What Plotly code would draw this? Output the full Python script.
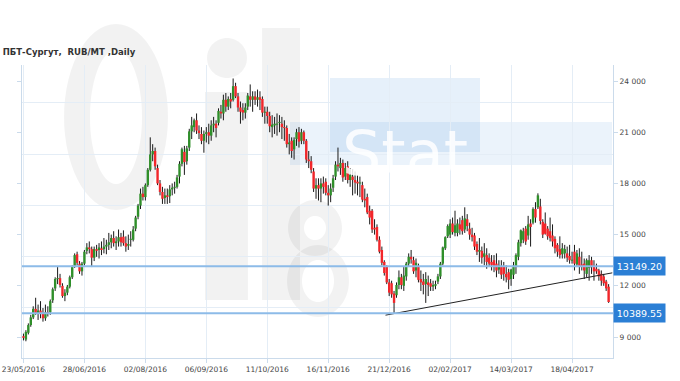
import math
import plotly.graph_objects as go

# ---------------- data ----------------
opens = [9050, 8850, 9250, 9700, 10150, 10650, 10400, 10550, 10400, 10100,
         10450, 10450, 11150, 11850, 12400, 12450, 12000, 11400, 11600, 11950,
         12500, 13150, 13850, 13300, 12850, 13300, 14050, 14250, 14150, 13650,
         14150, 14100, 14200, 14150, 14300, 14400, 14550, 14800, 14500, 14600,
         14850, 14880, 14500, 14350, 14700, 14700, 15350, 16050, 16700, 17400,
         17200, 17900, 18800, 19700, 19900, 18900, 18000, 17500, 17150, 17300,
         17250, 17650, 17750, 17800, 18400, 19150, 19850, 19300, 20100, 21050,
         21300, 21700, 21100, 20900, 20500, 20900, 21000, 20800, 21400, 21500,
         21550, 22200, 22100, 22900, 22500, 22950, 22900, 23700, 23100, 22450,
         22300, 22150, 22500, 23100, 22900, 23100, 22900, 23050, 22950, 22150,
         22200, 21950, 21300, 21400, 21450, 21550, 21500, 21300, 21250, 20300,
         20500, 20000, 20600, 21000, 20500, 21000, 20500, 19400, 19300, 18700,
         17700, 17900, 17700, 18000, 18100, 17450, 17300, 17750, 18400, 19100,
         18900, 19200, 18400, 19000, 18200, 18400, 18200, 18100, 18000, 17900,
         17100, 17200, 16400, 16400, 15400, 15450, 14700, 14100, 13400, 13100,
         12200, 12150, 11550, 11450, 12050, 12500, 12000, 12550, 13300, 13700,
         13500, 12900, 13100, 12400, 12250, 12100, 12200, 12150, 11950, 12000,
         12250, 12550, 13300, 14200, 14900, 15000, 15650, 15100, 15100, 15600,
         15850, 15300, 15900, 15350, 15000, 14950, 14450, 14000, 14050, 13700,
         13800, 13650, 13400, 13500, 13300, 12950, 13100, 13150, 12700, 12800,
         12400, 12650, 13100, 13700, 14500, 14700, 15350, 14950, 15650, 15700,
         16500, 16600, 16650, 15750, 15650, 15350, 15200, 14950, 14750, 14400,
         14150, 13850, 13900, 13900, 13750, 13500, 14000, 13250, 13700, 13250,
         13300, 12700, 13050, 13500, 13200, 13000, 12900, 12700, 12550, 12250,
         11950]
highs = [9200, 9400, 9800, 10300, 10800, 11300, 10900, 11100, 10700, 10900,
         10800, 11200, 11900, 12500, 13100, 12700, 12150, 11800, 12050, 12600,
         13200, 13900, 14000, 13450, 13400, 14100, 14500, 14600, 14300, 14300,
         14400, 14500, 14600, 14800, 14700, 15100, 15000, 15200, 14900, 15300,
         15100, 15250, 14900, 15000, 15200, 15500, 16100, 16800, 17700, 17800,
         18000, 18900, 20700, 20300, 20100, 19100, 18200, 17800, 17700, 17700,
         17900, 18000, 18100, 18500, 19300, 20100, 20200, 20200, 21200, 21900,
         21800, 22100, 21400, 21300, 21100, 21300, 21500, 21700, 21900, 21700,
         22400, 22600, 23200, 23300, 23100, 23300, 24150, 23900, 23300, 22800,
         22700, 22700, 23300, 23800, 23400, 23400, 23500, 23400, 23100, 22500,
         22500, 22200, 22000, 21900, 22100, 22000, 21900, 21700, 21400, 20900,
         20700, 20700, 21200, 21300, 21200, 21100, 20600, 19900, 19600, 18900,
         18300, 18300, 18300, 18400, 18300, 17900, 18000, 18500, 19300, 20100,
         19500, 19400, 19200, 19300, 18900, 18800, 18700, 18500, 18400, 18100,
         17700, 17400, 16700, 16500, 15900, 15600, 14900, 14300, 13500, 13200,
         12400, 12300, 11700, 12200, 12900, 12700, 13100, 13400, 13900, 14100,
         13700, 13600, 13300, 12900, 12700, 12800, 12600, 12400, 12300, 12300,
         12700, 13400, 14300, 14900, 15600, 15900, 16000, 16400, 15900, 16000,
         16100, 16600, 16200, 15700, 15400, 15100, 14600, 14800, 14300, 14500,
         14200, 13900, 13800, 13800, 13900, 13500, 13500, 13400, 13200, 13000,
         13000, 13400, 13900, 14700, 15300, 15400, 15500, 16100, 15900, 16600,
         16900, 17420, 17100, 15900, 16300, 15500, 16000, 15600, 14900, 14500,
         14900, 14500, 14400, 14300, 14400, 14000, 14400, 14100, 14200, 14000,
         13600, 13600, 13800, 13700, 13500, 13300, 13000, 12900, 12700, 12350,
         12100]
lows = [8800, 8750, 9150, 9600, 10050, 10300, 10000, 10100, 9900, 9950,
        10200, 10300, 11000, 11700, 12100, 11900, 11300, 11100, 11450, 11850,
        12400, 13050, 13200, 12700, 12600, 13200, 13850, 13900, 13100, 13450,
        13700, 13600, 13800, 13900, 13850, 14100, 14200, 14300, 14100, 14300,
        14300, 14350, 14000, 14100, 14300, 14600, 15200, 15900, 16500, 17000,
        17000, 17800, 18700, 19300, 18800, 17900, 17300, 16800, 16800, 16800,
        16850, 17300, 17400, 17700, 18000, 19000, 18500, 19100, 19900, 20600,
        21000, 20900, 20600, 20300, 19800, 20400, 20300, 20500, 21000, 20700,
        21400, 21800, 21700, 22200, 22300, 22400, 22800, 23000, 22200, 21500,
        21700, 21800, 22300, 22500, 22200, 22600, 22500, 22300, 21900, 21500,
        21500, 21000, 20700, 20900, 20800, 21000, 20600, 20500, 20100, 19700,
        19500, 19400, 20200, 20100, 20300, 20300, 19200, 18900, 18600, 17500,
        17100, 17000, 16900, 17400, 17300, 16700, 16900, 17500, 18200, 18700,
        18500, 18100, 18200, 18000, 17800, 17300, 17400, 17300, 17200, 16900,
        16600, 16200, 15600, 15100, 15000, 14600, 13900, 13200, 12600, 12100,
        11400, 11300, 10390, 11300, 11800, 11800, 11700, 12300, 13100, 13300,
        12700, 12500, 12200, 11700, 11500, 11000, 11400, 11700, 11700, 11800,
        12100, 12400, 13200, 14100, 14800, 14800, 15000, 14900, 14900, 15000,
        15000, 15100, 15200, 14700, 14600, 14100, 13800, 13400, 13300, 13200,
        13000, 13100, 12900, 12800, 12500, 12700, 12400, 12300, 12200, 11800,
        12000, 12400, 12700, 13500, 14300, 14500, 14400, 14700, 14300, 15600,
        15700, 16500, 15600, 14800, 15000, 14700, 14600, 14300, 13900, 13700,
        13600, 13600, 13600, 13400, 13300, 13300, 12900, 13100, 12700, 12900,
        12400, 12500, 12300, 12700, 12300, 12700, 12300, 12000, 12000, 11700,
        11000]
closes = [8950, 9300, 9700, 10150, 10650, 10400, 10550, 10350, 10100, 10450,
          10400, 11100, 11800, 12400, 12450, 12050, 11400, 11600, 11950, 12500,
          13100, 13800, 13350, 12850, 13300, 14000, 14250, 14150, 13650, 14150,
          14050, 14250, 14100, 14300, 14400, 14550, 14800, 14500, 14600, 14850,
          14550, 14500, 14300, 14450, 14750, 15300, 16000, 16700, 17400, 17200,
          17900, 18800, 19700, 19900, 19000, 18000, 17500, 17100, 17300, 17200,
          17650, 17750, 17800, 18350, 19150, 20000, 19250, 20050, 21050, 21400,
          21700, 21100, 20950, 20500, 20900, 21000, 20800, 21400, 21500, 21250,
          22250, 22100, 22900, 22500, 22950, 22800, 23700, 23100, 22450, 22200,
          22150, 22450, 23150, 22900, 23100, 22900, 23050, 22900, 22150, 22200,
          21950, 21350, 21450, 21500, 21500, 21600, 21300, 21250, 20300, 20400,
          19900, 20550, 21000, 20450, 21000, 20500, 19400, 19300, 18800, 17700,
          17900, 17700, 18000, 17800, 17450, 17300, 17700, 18300, 19100, 19000,
          19200, 18350, 18900, 18200, 18500, 18200, 18050, 18000, 18050, 17050,
          17000, 16300, 16000, 15300, 15300, 14700, 14000, 13350, 12750, 12200,
          11600, 11500, 11000, 12050, 12500, 12050, 12600, 13300, 13700, 13550,
          12850, 13350, 12350, 12200, 12050, 12400, 12050, 11950, 12050, 12100,
          12550, 13300, 14250, 14850, 15500, 15650, 15150, 15550, 15650, 15300,
          15200, 15950, 15500, 15000, 14850, 14300, 14000, 14100, 13650, 13900,
          13400, 13300, 13200, 13100, 12900, 13200, 12650, 12700, 12500, 12350,
          12950, 13200, 13800, 14550, 15250, 15200, 14600, 15600, 15450, 16500,
          16000, 17300, 15800, 15000, 15050, 14900, 14800, 14600, 14200, 14000,
          13800, 14200, 14150, 13650, 13500, 13500, 13300, 13900, 13150, 13100,
          12900, 13500, 13500, 13100, 12850, 12850, 12550, 12300, 12150, 11850,
          11050]

tick_index = [0, 25, 50, 75, 100, 125, 150, 175, 200, 225]
tick_labels = ["23/05/2016", "28/06/2016", "02/08/2016", "06/09/2016",
               "11/10/2016", "16/11/2016", "21/12/2016", "02/02/2017",
               "14/03/2017", "18/04/2017"]

level_values = [13149.20, 10389.55]
level_labels = ["13149.20", "10389.55"]

trend_x = [148.5, 241.5]
trend_y = [10280, 12760]

title_text = "ПБТ-Сургут,  RUB/MT ,Daily"

# ---------------- geometry helpers for decoration ----------------
PL, PR, PT, PB = 22, 613, 65, 358          # plot area in pixels
def px(x):
    return (x - PL) / (PR - PL)
def py(y):
    return (PB - y) / (PB - PT)

def ellipse_pts(cx, cy, rx, ry, reverse=False, k=60):
    angs = [2 * math.pi * j / k for j in range(k)]
    if reverse:
        angs = angs[::-1]
    return [(px(cx + rx * math.cos(a)), py(cy + ry * math.sin(a))) for a in angs]

def ring_path(cx, cy, rx, ry, t):
    outer = ellipse_pts(cx, cy, rx, ry)
    inner = ellipse_pts(cx, cy, rx - t, ry - t, reverse=True)
    p = "M" + " L".join(f"{x:.4f},{y:.4f}" for x, y in outer) + " Z "
    p += "M" + " L".join(f"{x:.4f},{y:.4f}" for x, y in inner) + " Z"
    return p

def blob_path(cx, cy, rx, ry):
    pts = ellipse_pts(cx, cy, rx, ry)
    return "M" + " L".join(f"{x:.4f},{y:.4f}" for x, y in pts) + " Z"

def rect_path(x0, y0, x1, y1):
    return (f"M{px(x0):.4f},{py(y0):.4f} L{px(x1):.4f},{py(y0):.4f} "
            f"L{px(x1):.4f},{py(y1):.4f} L{px(x0):.4f},{py(y1):.4f} Z")

n = len(closes)
idx = list(range(n))

GREEN = "#2f8f2a"
RED = "#f2262a"

wx, wy = [], []
gx, gy, rx_, ry_ = [], [], [], []
for i, o, h, l, c in zip(idx, opens, highs, lows, closes):
    wx += [i, i, None]
    wy += [l, h, None]
    lo, hi = min(o, c), max(o, c)
    if hi - lo < 60:
        mid = (hi + lo) / 2
        lo, hi = mid - 30, mid + 30
    if c >= o:
        gx += [i, i, None]
        gy += [lo, hi, None]
    else:
        rx_ += [i, i, None]
        ry_ += [lo, hi, None]

fig = go.Figure()

fig.add_trace(go.Scatter(x=[None], y=[None], yaxis="y2", showlegend=False,
                         hoverinfo="skip"))
fig.add_trace(go.Scatter(x=wx, y=wy, mode="lines",
                         line=dict(color="#1a1a1a", width=1),
                         showlegend=False, hoverinfo="skip"))
fig.add_trace(go.Scatter(x=gx, y=gy, mode="lines",
                         line=dict(color=GREEN, width=2.4),
                         showlegend=False, hoverinfo="skip"))
fig.add_trace(go.Scatter(x=rx_, y=ry_, mode="lines",
                         line=dict(color=RED, width=2.4),
                         showlegend=False, hoverinfo="skip"))
fig.add_trace(go.Scatter(x=trend_x, y=trend_y, mode="lines",
                         line=dict(color="#222222", width=1),
                         showlegend=False, hoverinfo="skip"))

shapes = []
WM = "rgba(0,0,0,0.05)"
def deco(path, color=WM):
    shapes.append(dict(type="path", xref="paper", yref="paper", layer="below",
                       path=path, fillcolor=color, line=dict(width=0)))

deco(ring_path(116, 117, 52, 93, 26))          # "O"
deco(rect_path(205, 92, 248, 300))             # "i" stem
deco(blob_path(227, 58, 20, 20))               # "i" dot
deco(rect_path(262, 28, 300, 300))             # "l"
deco(ring_path(315, 228, 27, 28, 16))          # drop, upper ring
deco(ring_path(318, 281, 31, 36, 15))          # drop, lower ring
deco(rect_path(290, 122, 612, 165), "rgba(60,140,215,0.10)")
deco(rect_path(330, 78, 480, 152), "rgba(60,140,215,0.13)")

for v in level_values:
    shapes.append(dict(type="line", xref="paper", yref="y", x0=0, x1=1,
                       y0=v, y1=v, line=dict(color="#8dbbe8", width=2)))

annotations = []
annotations.append(dict(xref="paper", yref="paper", x=px(405), y=py(115),
                        text="Stat", showarrow=False,
                        font=dict(family="DejaVu Sans", size=62,
                                  color="rgba(255,255,255,0.85)")))
for v, t in zip(level_values, level_labels):
    annotations.append(dict(xref="paper", yref="y", x=1, y=v, xanchor="left",
                            yanchor="middle", text=t, showarrow=False,
                            bgcolor="#2b7fd5", width=49, height=16,
                            borderpad=1,
                            font=dict(family="DejaVu Sans", size=9.5,
                                      color="white")))

YR = [7770, 24940]
fig.update_layout(
    width=680, height=381,
    margin=dict(l=PL, r=680 - PR, t=PT, b=381 - PB, autoexpand=False),
    paper_bgcolor="white", plot_bgcolor="white",
    separators=". ",
    showlegend=False,
    title=dict(text=title_text, xref="container", yref="container",
               x=0.004, xanchor="left", y=1 - 52 / 381, yanchor="middle",
               font=dict(family="DejaVu Sans", size=8.5, color="#333333",
                         weight="bold")),
    xaxis=dict(range=[-0.6, 241.8], tickmode="array", tickvals=tick_index,
               ticktext=tick_labels, showgrid=True, gridcolor="#e4edf6",
               gridwidth=1, zeroline=False, showline=True, automargin=False,
               linecolor="#cbdbeb", ticks="outside", ticklen=4,
               tickcolor="#cbdbeb",
               tickfont=dict(family="DejaVu Sans", size=7.5, color="#444")),
    yaxis=dict(range=YR, side="right", tick0=0, dtick=3000, automargin=False,
               tickformat=",d", showgrid=False, zeroline=False,
               showline=True, mirror="ticks", linecolor="#cbdbeb",
               ticks="outside", ticklen=4, tickcolor="#cbdbeb",
               tickfont=dict(family="DejaVu Sans", size=7.5, color="#444")),
    yaxis2=dict(range=YR, overlaying="y", side="right", tick0=7720,
                dtick=3000, showgrid=True, gridcolor="#e4edf6",
                automargin=False,
                showticklabels=False, ticks="", zeroline=False,
                showline=False),
    shapes=shapes,
    annotations=annotations,
)

fig.write_html("out.html")
